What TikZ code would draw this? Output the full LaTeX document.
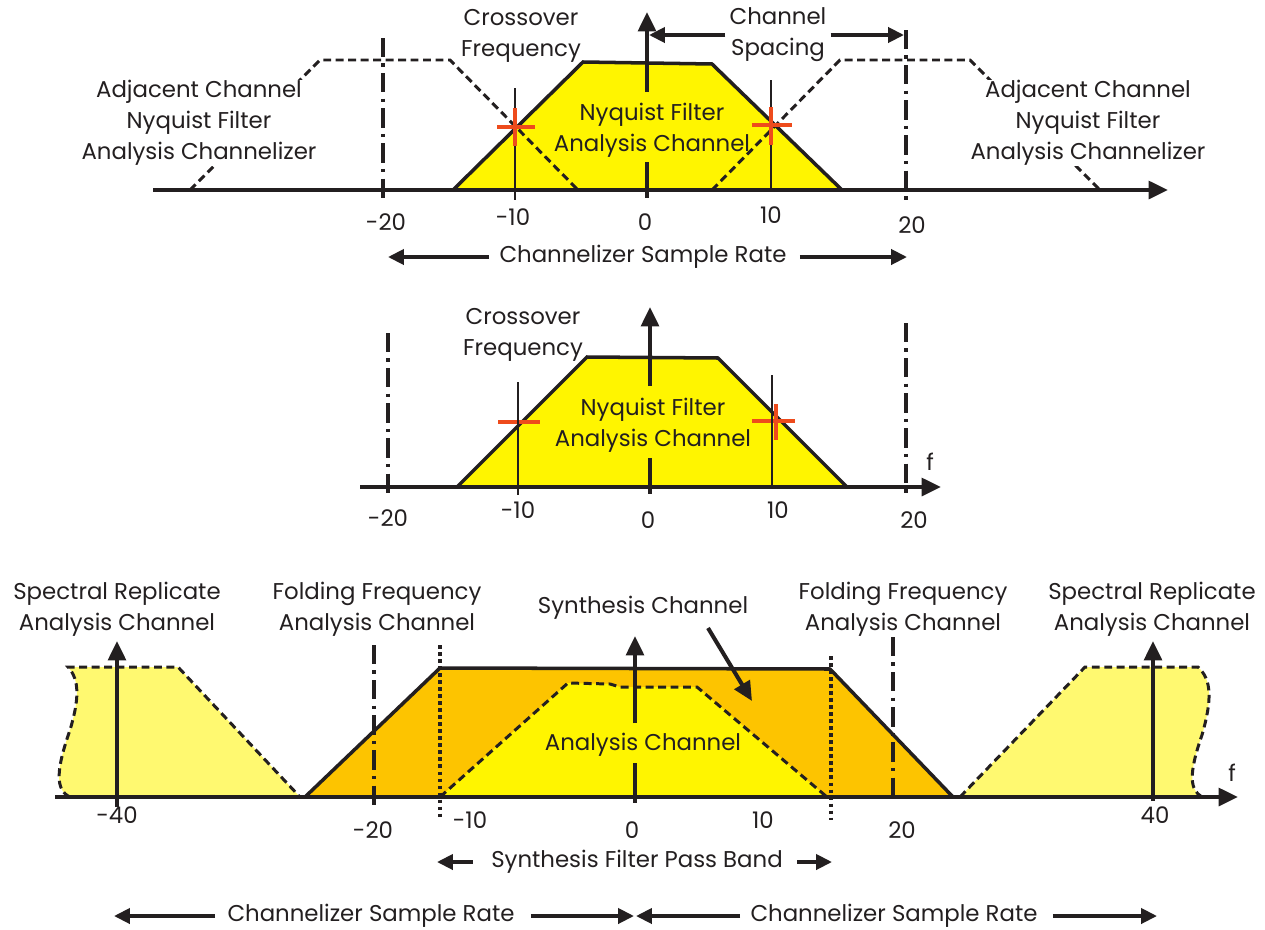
\documentclass[tikz,border=0pt]{standalone}
\usepackage{fontspec}
\setmainfont{Poppins}
\usetikzlibrary{arrows.meta}
\definecolor{ink}{HTML}{231F20}
\definecolor{yel}{HTML}{FFF500}
\definecolor{org}{HTML}{FDC400}
\definecolor{lyel}{HTML}{FFF970}
\definecolor{xred}{HTML}{EE4B1C}
\begin{document}
\begin{tikzpicture}[x=0.02cm,y=-0.02cm,
  lbl/.style={font=\fontsize{13}{17.6}\selectfont, inner sep=0pt, align=center, text=ink},
  axisln/.style={draw=ink, line width=2.3pt, -{Triangle[length=11pt,width=10pt]}},
  arr/.style={draw=ink, line width=2.1pt, -{Triangle[length=9pt,width=8.5pt]}},
  filt/.style={draw=ink, line width=2pt, line join=miter},
  dsh/.style={draw=ink, line width=1.7pt, dash pattern=on 4.5pt off 2.6pt},
  dashdot/.style={draw=ink, line width=2.2pt, dash pattern=on 11pt off 3.5pt on 2pt off 3.5pt},
  dotln/.style={draw=ink, line width=2pt, dash pattern=on 2pt off 2pt},
  thinln/.style={draw=ink, line width=1.2pt},
  redx/.style={draw=xred, line width=1.8pt},
  tick/.style={draw=ink, line width=2.1pt}
]
\useasboundingbox (0,0) rectangle (1265,930);

%================ TOP PANEL ================
\fill[yel] (453,190) -- (583,62) -- (712,64) -- (842,190) -- cycle;
\draw[filt] (453,190) -- (583,62) -- (712,64) -- (842,190);
\draw[dsh] (190,190) -- (320,60) -- (450,60) -- (578,190);
\draw[dsh] (712,190) -- (840,60) -- (970,60) -- (1100,190);
\coordinate (tAx0) at (153,190);
\coordinate (tAx1) at (1168,190);
\draw[axisln] (tAx0) -- (tAx1);

\node[lbl,fill=white] (adjL) at (199,123) {Adjacent Channel\\Nyquist Filter\\Analysis Channelizer};
\node[lbl,fill=white] (adjR) at (1088,123) {Adjacent Channel\\Nyquist Filter\\Analysis Channelizer};
\node[lbl] (cfT) at (521,36) {Crossover\\Frequency};
\node[lbl] (csT) at (778,35) {Channel\\Spacing};
\node[lbl] (nyT) at (652,130) {Nyquist Filter\\Analysis Channel};

% dash-dot markers
\coordinate (tD1a) at (383,38); \coordinate (tD1b) at (383,202);
\coordinate (tD2a) at (906,30); \coordinate (tD2b) at (906,200);
\draw[dashdot] (tD1a) -- (tD1b);
\draw[dashdot] (tD2a) -- (tD2b);

% crossover lines
\coordinate (tL1a) at (515,88); \coordinate (tL1b) at (515,200);
\coordinate (tL2a) at (771,80); \coordinate (tL2b) at (771,190);
\draw[thinln] (tL1a) -- (tL1b);
\draw[thinln] (tL2a) -- (tL2b);
\draw[redx] (497,127) -- (535,127) (515,108) -- (515,146);
\draw[redx] (752,125) -- (792,125) (771,107) -- (771,145);

% vertical axis
\coordinate (tV0) at (647,92); \coordinate (tV1) at (647,12);
\draw[axisln] (tV0) -- (tV1);
\coordinate (tT0) at (647,162); \coordinate (tT1) at (647,198);
\draw[tick] (tT0) -- (tT1);

% channel spacing arrows
\coordinate (csL) at (649,35); \coordinate (csR) at (904,35);
\draw[arr] ([xshift=-0.08cm]csT.west) -- (csL);
\draw[arr] ([xshift=0.08cm]csT.east) -- (csR);

% tick labels
\node[lbl] (tm20) at (386,222) {-20};
\node[lbl] (tm10) at (513,217) {-10};
\node[lbl] (t0) at (645,222) {0};
\node[lbl] (t10) at (771,215) {10};
\node[lbl] (t20) at (912,225) {20};

\node[lbl] (csrT) at (643,257) {Channelizer Sample Rate};
\coordinate (csrL) at (388,257); \coordinate (csrR) at (907,257);
\draw[arr] ([xshift=-0.2cm]csrT.west) -- (csrL);
\draw[arr] ([xshift=0.26cm]csrT.east) -- (csrR);

%================ MIDDLE PANEL ================
\fill[yel] (457,487) -- (587,357) -- (718,358) -- (847,487) -- cycle;
\draw[filt] (457,487) -- (587,357) -- (718,358) -- (847,487);
\coordinate (mAx0) at (360,487);
\coordinate (mAx1) at (941,487);
\draw[axisln] (mAx0) -- (mAx1);
\node[lbl] (mf) at (930,462) {f};

\coordinate (mD1a) at (388,333); \coordinate (mD1b) at (388,497);
\coordinate (mD2a) at (906,323); \coordinate (mD2b) at (906,494);
\draw[dashdot] (mD1a) -- (mD1b);
\draw[dashdot] (mD2a) -- (mD2b);

\draw[redx] (498,422) -- (540,422);
\draw[redx] (752,421) -- (795,421) (776,404) -- (776,440);
\coordinate (mL1a) at (518,382); \coordinate (mL1b) at (518,495);
\coordinate (mL2a) at (772,375); \coordinate (mL2b) at (772,487);
\draw[thinln, line width=1.6pt] (mL1a) -- (mL1b);
\draw[thinln, line width=1.6pt] (mL2a) -- (mL2b);

\node[lbl] (cfM) at (523,335) {Crossover\\Frequency};
\node[lbl] (nyM) at (653,425) {Nyquist Filter\\Analysis Channel};

\coordinate (mV0) at (650,386); \coordinate (mV1) at (650,307);
\draw[axisln] (mV0) -- (mV1);
\coordinate (mT0) at (650,458); \coordinate (mT1) at (650,494);
\draw[tick] (mT0) -- (mT1);

\node[lbl] (mm20) at (388,518) {-20};
\node[lbl] (mm10) at (518,510) {-10};
\node[lbl] (m0) at (648,520) {0};
\node[lbl] (m10) at (778,510) {10};
\node[lbl] (m20) at (914,520) {20};

%================ BOTTOM PANEL ================
% spectral replicates
\path[fill=lyel] (68,667) -- (178,667) -- (300,797) -- (70,797)
  .. controls (55,790) and (56,770) .. (70,730)
  .. controls (79,700) and (80,680) .. (68,667) -- cycle;
\draw[dsh] (70,797) .. controls (55,790) and (56,770) .. (70,730)
  .. controls (79,700) and (80,680) .. (68,667) -- (178,667) -- (300,797) -- cycle;
\path[fill=lyel] (960,797) -- (1085,667) -- (1198,667)
  .. controls (1212,680) and (1212,700) .. (1202,735)
  .. controls (1188,775) and (1190,790) .. (1202,797) -- cycle;
\draw[dsh] (960,797) -- (1085,667) -- (1198,667)
  .. controls (1212,680) and (1212,700) .. (1202,735)
  .. controls (1188,775) and (1190,790) .. (1202,797) -- cycle;

% synthesis (orange) and analysis (yellow)
\fill[org] (305,797) -- (440,668) -- (830,669) -- (953,797) -- cycle;
\draw[filt] (305,797) -- (440,668) -- (830,669) -- (953,797);
\fill[yel] (440,797) -- (568,683) -- (610,684) -- (620,687) -- (697,687) -- (827,797) -- cycle;
\draw[dsh] (440,797) -- (568,683) -- (610,684) -- (620,687) -- (697,687) -- (827,797) -- cycle;

\coordinate (bAx0) at (55,797);
\coordinate (bAx1) at (1238,797);
\draw[axisln] (bAx0) -- (bAx1);
\node[lbl] (bf) at (1232,773) {f};

% markers
\coordinate (bD1a) at (374,645); \coordinate (bD1b) at (374,806);
\coordinate (bD2a) at (893,637); \coordinate (bD2b) at (893,797);
\draw[dashdot] (bD1a) -- (bD1b);
\draw[dashdot] (bD2a) -- (bD2b);
\coordinate (bP1a) at (440,645); \coordinate (bP1b) at (440,820);
\coordinate (bP2a) at (831,656); \coordinate (bP2b) at (831,820);
\draw[dotln] (bP1a) -- (bP1b);
\draw[dotln] (bP2a) -- (bP2b);

% labels
\node[lbl] (srL) at (117,609) {Spectral Replicate\\Analysis Channel};
\node[lbl] (srR) at (1152,609) {Spectral Replicate\\Analysis Channel};
\node[lbl] (ffL) at (377,609) {Folding Frequency\\Analysis Channel};
\node[lbl] (ffR) at (903,609) {Folding Frequency\\Analysis Channel};
\node[lbl] (syn) at (643,608) {Synthesis Channel};
\node[lbl] (anB) at (643,745) {Analysis Channel};

% arrows
\coordinate (bRL0) at (117,807); \coordinate (bRL1) at (117,641);
\draw[axisln] (bRL0) -- (bRL1);
\coordinate (bRR0) at (1153,801); \coordinate (bRR1) at (1153,641);
\draw[axisln] (bRR0) -- (bRR1);
\coordinate (bC0) at (635,723); \coordinate (bC1) at (635,636);
\draw[axisln] (bC0) -- (bC1);
\coordinate (bCT0) at (635,763); \coordinate (bCT1) at (635,803);
\draw[tick] (bCT0) -- (bCT1);
\coordinate (synTip) at (752,701);
\draw[axisln] (708,628) -- (synTip);

% tick labels
\node[lbl] (bm40) at (117,815) {-40};
\node[lbl] (bm20) at (373,830) {-20};
\node[lbl] (bm10) at (470,820) {-10};
\node[lbl] (b0) at (632,830) {0};
\node[lbl] (b10) at (763,820) {10};
\node[lbl] (b20) at (902,830) {20};
\node[lbl] (b40) at (1155,815) {40};

% pass band
\node[lbl] (spb) at (637,862) {Synthesis Filter Pass Band};
\coordinate (spbL) at (437,862); \coordinate (spbR) at (832,862);
\draw[arr] ([xshift=-0.36cm]spb.west) -- (spbL);
\draw[arr] ([xshift=0.28cm]spb.east) -- (spbR);

% sample rates
\node[lbl] (csr1) at (371,916) {Channelizer Sample Rate};
\node[lbl] (csr2) at (894,916) {Channelizer Sample Rate};
\coordinate (c1L) at (114,916); \coordinate (cM1) at (634,916);
\coordinate (cM2) at (636,916); \coordinate (c2R) at (1157,916);
\draw[arr] ([xshift=-0.24cm]csr1.west) -- (c1L);
\draw[arr] ([xshift=0.32cm]csr1.east) -- (cM1);
\draw[arr] ([xshift=-0.2cm]csr2.west) -- (cM2);
\draw[arr] ([xshift=0.3cm]csr2.east) -- (c2R);
\end{tikzpicture}
\end{document}
